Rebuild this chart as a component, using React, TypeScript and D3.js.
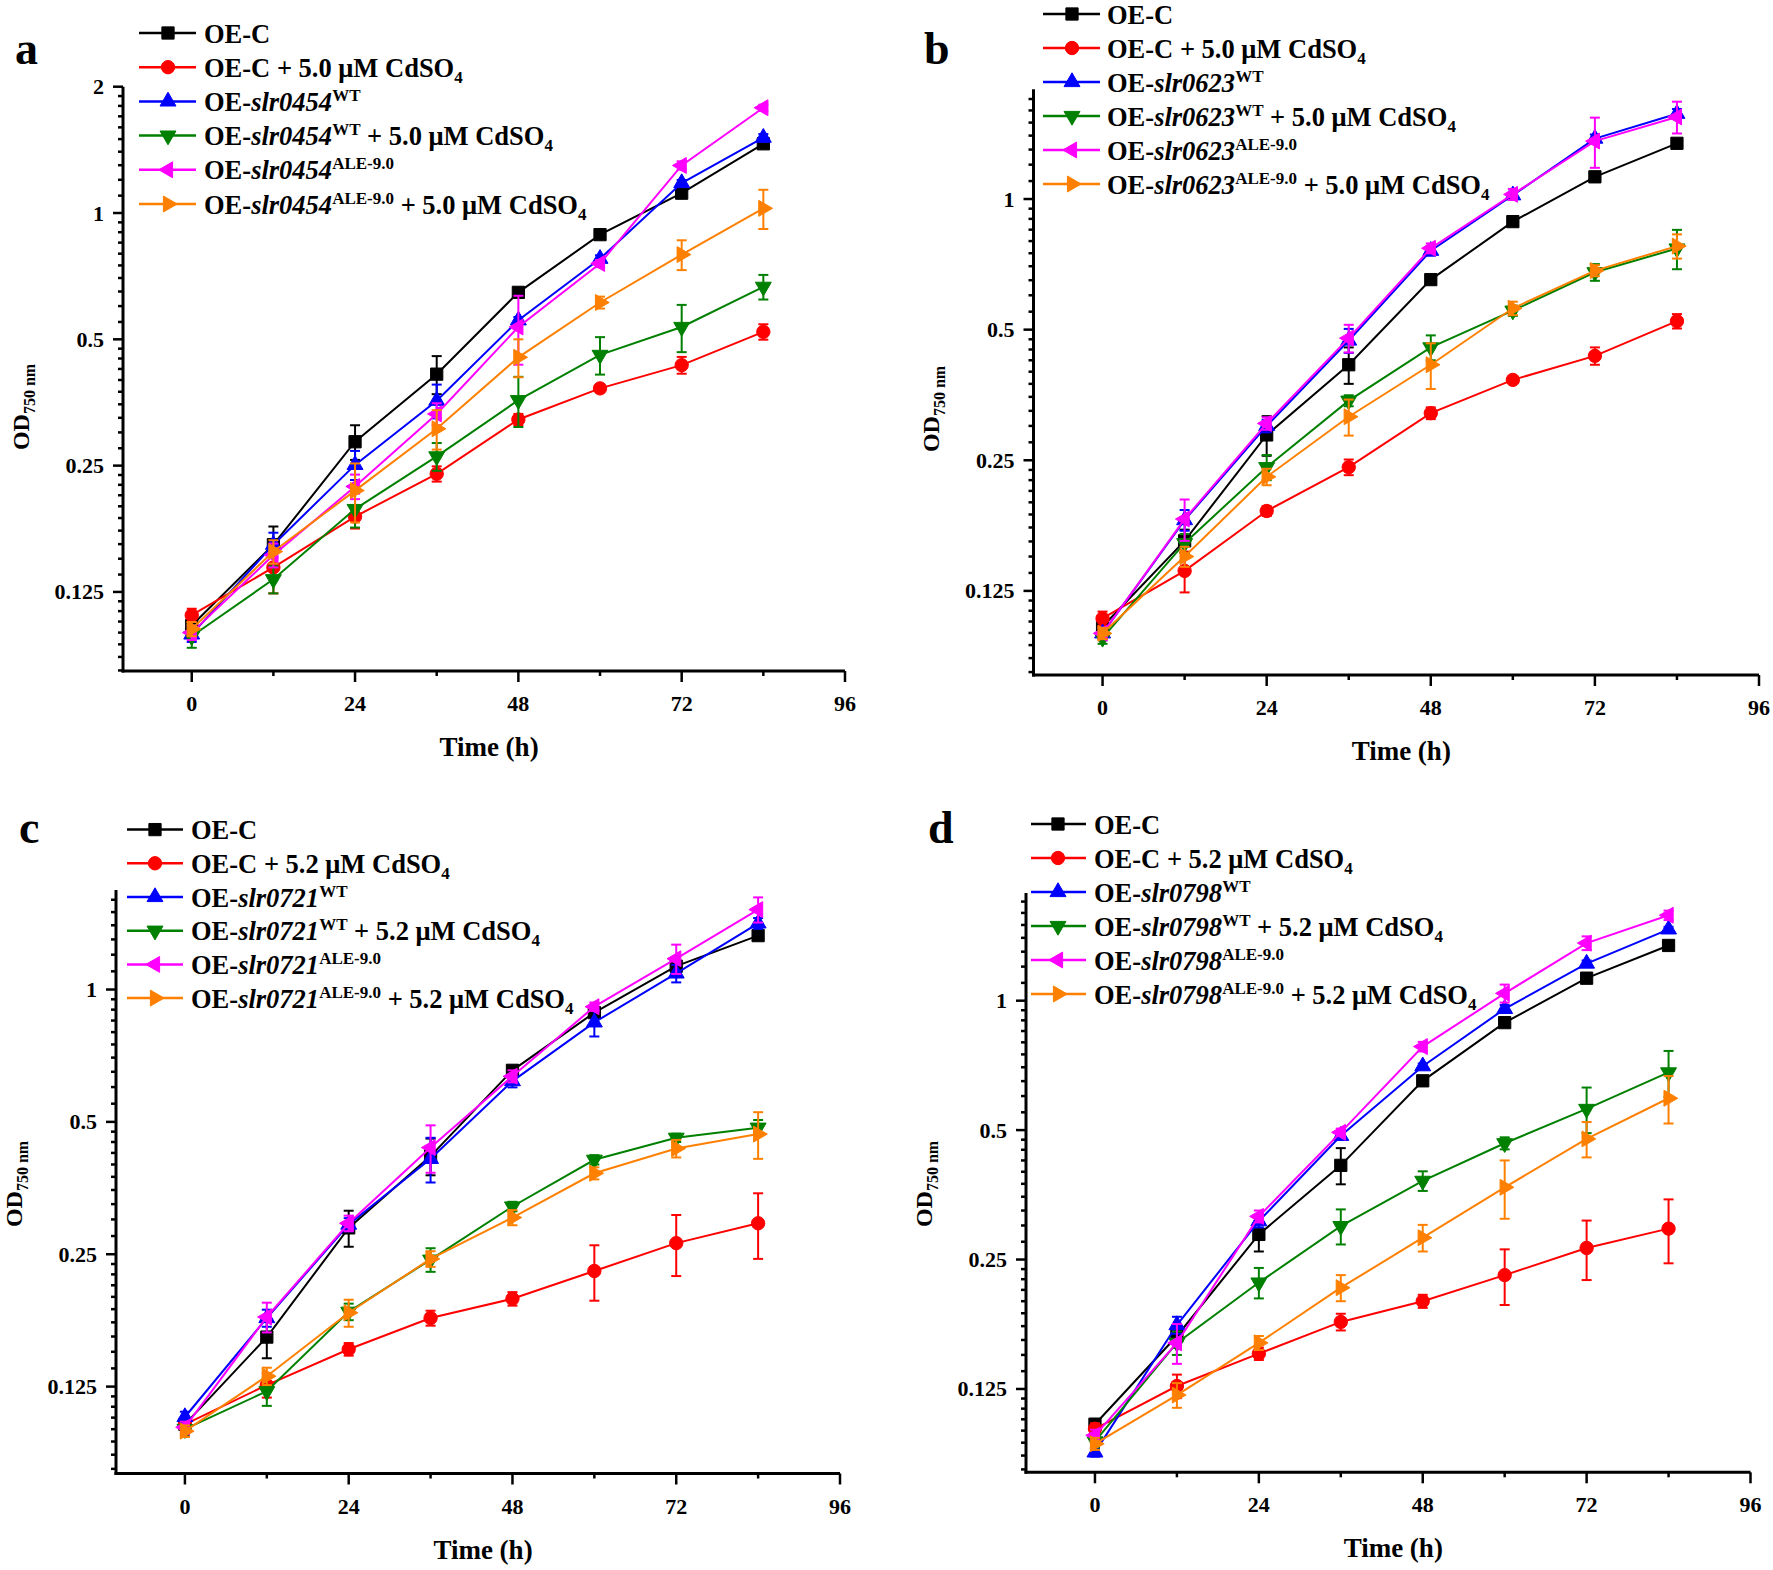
import React from 'react';
import * as d3 from 'd3';

// ---------- shared axis data ----------
const TIMES = [0, 12, 24, 36, 48, 60, 72, 84];
const X_TICKS = [0, 24, 48, 72, 96];
const X_MINOR = [12, 36, 60, 84];
const Y_TICKS = [2, 1, 0.5, 0.25, 0.125];
const Y_TICK_LABELS = ['2', '1', '0.5', '0.25', '0.125'];

const SERIES_COLORS = ['#000000', '#FF0000', '#0000FF', '#008000', '#FF00FF', '#FF8000'];
const SERIES_SHAPES = ['square', 'circle', 'up', 'down', 'left', 'right'];

// ---------- panel a (slr0454, 5.0 µM) ----------
const aOEC = [0.104, 0.162, 0.285, 0.413, 0.647, 0.888, 1.115, 1.462];
const aOECErr = [0.004, 0.017, 0.027, 0.043, 0.012, 0.012, 0.03, 0.025];
const aOECCd = [0.110, 0.143, 0.189, 0.239, 0.322, 0.382, 0.434, 0.521];
const aOECCdErr = [0.004, 0.019, 0.012, 0.01, 0.01, 0.008, 0.02, 0.022];
const aWT = [0.099, 0.162, 0.251, 0.357, 0.555, 0.778, 1.179, 1.512];
const aWTErr = [0.004, 0.011, 0.02, 0.033, 0.01, 0.015, 0.02, 0.03];
const aWTCd = [0.098, 0.134, 0.197, 0.263, 0.358, 0.459, 0.535, 0.667];
const aWTCdErr = [0.006, 0.01, 0.019, 0.02, 0.049, 0.047, 0.069, 0.045];
const aALE = [0.100, 0.153, 0.223, 0.332, 0.535, 0.758, 1.298, 1.782];
const aALEErr = [0.004, 0.01, 0.015, 0.02, 0.1, 0.015, 0.03, 0.03];
const aALECd = [0.102, 0.156, 0.218, 0.306, 0.453, 0.612, 0.796, 1.026];
const aALECdErr = [0.004, 0.01, 0.035, 0.033, 0.047, 0.02, 0.065, 0.11];

// ---------- panel b (slr0623, 5.0 µM) ----------
const bOEC = [0.1035, 0.163, 0.286, 0.415, 0.652, 0.887, 1.125, 1.344];
const bOECErr = [0.004, 0.01, 0.03, 0.04, 0.01, 0.015, 0.03, 0.03];
const bOECCd = [0.108, 0.139, 0.191, 0.241, 0.321, 0.383, 0.435, 0.523];
const bOECCdErr = [0.004, 0.015, 0.005, 0.01, 0.01, 0.006, 0.02, 0.02];
const bWT = [0.0998, 0.182, 0.300, 0.472, 0.760, 1.020, 1.378, 1.572];
const bWTErr = [0.003, 0.01, 0.01, 0.03, 0.02, 0.02, 0.03, 0.04];
const bWTCd = [0.0974, 0.161, 0.241, 0.343, 0.455, 0.553, 0.678, 0.769];
const bWTCdErr = [0.003, 0.008, 0.016, 0.01, 0.03, 0.015, 0.03, 0.08];
const bALE = [0.0998, 0.183, 0.304, 0.478, 0.770, 1.025, 1.360, 1.546];
const bALEErr = [0.003, 0.02, 0.01, 0.035, 0.02, 0.03, 0.18, 0.13];
const bALECd = [0.0998, 0.150, 0.229, 0.315, 0.415, 0.560, 0.684, 0.779];
const bALECdErr = [0.003, 0.008, 0.01, 0.03, 0.05, 0.02, 0.02, 0.05];

// ---------- panel c (slr0721, 5.2 µM) ----------
const cOEC = [0.1026, 0.162, 0.287, 0.418, 0.655, 0.886, 1.130, 1.326];
const cOECErr = [0.003, 0.017, 0.027, 0.04, 0.01, 0.01, 0.03, 0.02];
const cOECCd = [0.1026, 0.126, 0.152, 0.179, 0.198, 0.229, 0.265, 0.294];
const cOECCdErr = [0.003, 0.008, 0.005, 0.007, 0.007, 0.033, 0.042, 0.05];
const cWT = [0.1066, 0.179, 0.292, 0.412, 0.619, 0.842, 1.088, 1.414];
const cWTErr = [0.003, 0.008, 0.01, 0.048, 0.02, 0.06, 0.05, 0.04];
const cWTCd = [0.100, 0.122, 0.185, 0.243, 0.321, 0.410, 0.460, 0.485];
const cWTCdErr = [0.003, 0.009, 0.008, 0.015, 0.008, 0.01, 0.01, 0.02];
const cALE = [0.101, 0.180, 0.294, 0.437, 0.635, 0.914, 1.175, 1.520];
const cALEErr = [0.003, 0.014, 0.012, 0.054, 0.02, 0.02, 0.09, 0.1];
const cALECd = [0.099, 0.132, 0.184, 0.244, 0.303, 0.382, 0.435, 0.469];
const cALECdErr = [0.003, 0.006, 0.013, 0.01, 0.012, 0.012, 0.02, 0.057];

// ---------- panel d (slr0798, 5.2 µM) ----------
const dOEC = [0.1035, 0.166, 0.286, 0.414, 0.651, 0.889, 1.128, 1.344];
const dOECErr = [0.003, 0.01, 0.025, 0.04, 0.015, 0.02, 0.03, 0.03];
const dOECCd = [0.101, 0.127, 0.151, 0.179, 0.200, 0.230, 0.266, 0.295];
const dOECCdErr = [0.003, 0.008, 0.005, 0.008, 0.007, 0.034, 0.042, 0.05];
const dWT = [0.089, 0.176, 0.307, 0.485, 0.704, 0.957, 1.220, 1.465];
const dWTErr = [0.002, 0.008, 0.01, 0.01, 0.01, 0.02, 0.02, 0.02];
const dWTCd = [0.0944, 0.160, 0.221, 0.299, 0.381, 0.466, 0.560, 0.681];
const dWTCdErr = [0.003, 0.01, 0.018, 0.028, 0.02, 0.015, 0.068, 0.083];
const dALE = [0.0975, 0.160, 0.315, 0.494, 0.782, 1.040, 1.361, 1.580];
const dALEErr = [0.003, 0.017, 0.01, 0.01, 0.02, 0.05, 0.05, 0.04];
const dALECd = [0.0932, 0.121, 0.160, 0.215, 0.281, 0.368, 0.477, 0.593];
const dALECdErr = [0.003, 0.008, 0.006, 0.015, 0.02, 0.057, 0.045, 0.075];

const PANEL_LETTERS = ['a', 'b', 'c', 'd'];
const PANEL_GENES = ['slr0454', 'slr0623', 'slr0721', 'slr0798'];
const PANEL_CONC = ['5.0', '5.0', '5.2', '5.2'];
const PANEL_VALUES = [
  [aOEC, aOECCd, aWT, aWTCd, aALE, aALECd],
  [bOEC, bOECCd, bWT, bWTCd, bALE, bALECd],
  [cOEC, cOECCd, cWT, cWTCd, cALE, cALECd],
  [dOEC, dOECCd, dWT, dWTCd, dALE, dALECd],
];
const PANEL_ERRORS = [
  [aOECErr, aOECCdErr, aWTErr, aWTCdErr, aALEErr, aALECdErr],
  [bOECErr, bOECCdErr, bWTErr, bWTCdErr, bALEErr, bALECdErr],
  [cOECErr, cOECCdErr, cWTErr, cWTCdErr, cALEErr, cALECdErr],
  [dOECErr, dOECCdErr, dWTErr, dWTCdErr, dALEErr, dALECdErr],
];
const PANEL_YMAX = [2.0, 1.79, 1.684, 1.78];
const PANEL_YMIN = [0.081, 0.08, 0.0793, 0.08];

// ---------- layout (pixels) ----------
const LAYOUT = [
  { left: 123, right: 845, top: 86.7, bottom: 671, letterX: 15, letterY: 64, odY: 407,
    legY: 33, legStep: 34.2, legX1: 139, legX2: 196, legM: 168, legT: 204 },
  { left: 1033.5, right: 1759, top: 89.3, bottom: 675, letterX: 924, letterY: 64, odY: 409,
    legY: 14, legStep: 34, legX1: 1043, legX2: 1100, legM: 1072, legT: 1107 },
  { left: 116, right: 840, top: 890, bottom: 1473.5, letterX: 19, letterY: 843, odY: 1184,
    legY: 829.6, legStep: 33.7, legX1: 127, legX2: 183, legM: 155, legT: 191 },
  { left: 1026, right: 1750.5, top: 893, bottom: 1472.3, letterX: 928, letterY: 843, odY: 1184,
    legY: 824, legStep: 34, legX1: 1031, legX2: 1086, legM: 1058, legT: 1094 },
];

const FONT = '"Liberation Serif", "Times New Roman", Times, serif';
const X_MIN = -10.1;

function markerPath(shape: string): { d: string; rot: number } {
  if (shape === 'square') return { d: d3.symbol(d3.symbolSquare, 150)() as string, rot: 0 };
  if (shape === 'circle') return { d: d3.symbol(d3.symbolCircle, 140)() as string, rot: 0 };
  const tri = d3.symbol(d3.symbolTriangle, 110)() as string;
  const rot = shape === 'up' ? 0 : shape === 'down' ? 180 : shape === 'left' ? -90 : 90;
  return { d: tri, rot };
}

function Marker({ x, y, i }: { x: number; y: number; i: number }) {
  const m = markerPath(SERIES_SHAPES[i]);
  return (
    <path d={m.d} transform={`translate(${x},${y}) rotate(${m.rot})`} fill={SERIES_COLORS[i]} stroke={SERIES_COLORS[i]} strokeWidth={1} />
  );
}

function LegendLabel({ x, y, kind, gene, conc }: { x: number; y: number; kind: number; gene: string; conc: string }) {
  const cd = (lead: number) => [
    <tspan key="cd" dy={lead}>{` + ${conc} \u03BCM CdSO`}</tspan>,
    <tspan key="sub" dy={6} fontSize={17}>4</tspan>,
  ];
  let parts: React.ReactNode[] = [];
  if (kind === 0) parts = [<tspan key="a">OE-C</tspan>];
  else if (kind === 1) parts = [<tspan key="a">OE-C</tspan>, ...cd(0)];
  else {
    const sup = kind === 2 || kind === 3 ? 'WT' : 'ALE-9.0';
    parts = [
      <tspan key="a">OE-</tspan>,
      <tspan key="g" fontStyle="italic">{gene}</tspan>,
      <tspan key="s" dy={-10} fontSize={17}>{sup}</tspan>,
    ];
    if (kind === 3 || kind === 5) parts.push(...cd(10));
  }
  return (
    <text x={x} y={y} fontFamily={FONT} fontWeight="bold" fontSize={26.5} fill="#000" style={{ whiteSpace: 'pre' }}>
      {parts}
    </text>
  );
}

function Panel({ p }: { p: number }) {
  const L = LAYOUT[p];
  const x = d3.scaleLinear().domain([X_MIN, 96]).range([L.left, L.right]);
  const y = d3.scaleLog().base(2).domain([PANEL_YMIN[p], PANEL_YMAX[p]]).range([L.bottom, L.top]);
  const line = d3.line<number>().x((_, i) => x(TIMES[i])).y((v) => y(v));
  const values = PANEL_VALUES[p];
  const errors = PANEL_ERRORS[p];

  // minor y ticks: 9 per octave, linear within octave
  const minor: number[] = [];
  for (let k = -5; k <= 1; k++) {
    const base = Math.pow(2, k);
    for (let j = 1; j <= 9; j++) {
      const v = base * (1 + j / 10);
      if (v >= PANEL_YMIN[p] && v <= PANEL_YMAX[p]) minor.push(v);
    }
  }
  const yMajor = Y_TICKS.map((v, i) => ({ v, label: Y_TICK_LABELS[i] })).filter((t) => t.v <= PANEL_YMAX[p] * 1.001);
  const midX = (L.left + L.right) / 2 + 5;

  return (
    <g>
      {/* panel letter */}
      <text x={L.letterX} y={L.letterY} fontFamily={FONT} fontWeight="bold" fontSize={46}>{PANEL_LETTERS[p]}</text>

      {/* series */}
      {values.map((vals, si) => (
        <g key={si}>
          <path d={line(vals) as string} fill="none" stroke={SERIES_COLORS[si]} strokeWidth={2} />
          {vals.map((v, ti) => {
            const e = errors[si][ti];
            const cx = x(TIMES[ti]);
            const yTop = y(v + e);
            const yBot = y(Math.max(v - e, 0.001));
            return (
              <g key={ti} stroke={SERIES_COLORS[si]} strokeWidth={2}>
                <line x1={cx} x2={cx} y1={yTop} y2={yBot} />
                <line x1={cx - 5} x2={cx + 5} y1={yTop} y2={yTop} />
                <line x1={cx - 5} x2={cx + 5} y1={yBot} y2={yBot} />
              </g>
            );
          })}
          {vals.map((v, ti) => (
            <Marker key={'m' + ti} x={x(TIMES[ti])} y={y(v)} i={si} />
          ))}
        </g>
      ))}

      {/* axes */}
      <line x1={L.left} x2={L.left} y1={L.top} y2={L.bottom + 1.5} stroke="#000" strokeWidth={3} />
      <line x1={L.left - 1.5} x2={L.right} y1={L.bottom} y2={L.bottom} stroke="#000" strokeWidth={3} />
      {minor.map((v, i) => (
        <line key={'ym' + i} x1={L.left - 5} x2={L.left} y1={y(v)} y2={y(v)} stroke="#000" strokeWidth={2.5} />
      ))}
      {yMajor.map((t, i) => (
        <g key={'yt' + i}>
          <line x1={L.left - 10} x2={L.left} y1={y(t.v)} y2={y(t.v)} stroke="#000" strokeWidth={2.5} />
          <text x={L.left - 19} y={y(t.v) + 7.5} textAnchor="end" fontFamily={FONT} fontWeight="bold" fontSize={22}>{t.label}</text>
        </g>
      ))}
      {X_MINOR.map((t, i) => (
        <line key={'xm' + i} x1={x(t)} x2={x(t)} y1={L.bottom} y2={L.bottom + 5} stroke="#000" strokeWidth={2.5} />
      ))}
      {X_TICKS.map((t, i) => (
        <g key={'xt' + i}>
          <line x1={x(t)} x2={x(t)} y1={L.bottom} y2={L.bottom + 11} stroke="#000" strokeWidth={2.5} />
          <text x={x(t)} y={L.bottom + 40} textAnchor="middle" fontFamily={FONT} fontWeight="bold" fontSize={22}>{t}</text>
        </g>
      ))}

      {/* axis titles */}
      <text x={midX} y={L.bottom + 85} textAnchor="middle" fontFamily={FONT} fontWeight="bold" fontSize={27}>Time (h)</text>
      <text transform={`translate(${L.left - 94.5},${L.odY}) rotate(-90)`} textAnchor="middle" fontFamily={FONT} fontWeight="bold" fontSize={24} style={{ whiteSpace: 'pre' }}>
        OD<tspan dy={6} fontSize={16}>750 nm</tspan>
      </text>

      {/* legend */}
      {SERIES_COLORS.map((c, si) => {
        const ry = L.legY + si * L.legStep;
        return (
          <g key={'lg' + si}>
            <line x1={L.legX1} x2={L.legX2} y1={ry} y2={ry} stroke={c} strokeWidth={2.5} />
            <Marker x={L.legM} y={ry} i={si} />
            <LegendLabel x={L.legT} y={ry + 9.5} kind={si} gene={PANEL_GENES[p]} conc={PANEL_CONC[p]} />
          </g>
        );
      })}
    </g>
  );
}

export default function App() {
  return (
    <svg width={1773} height={1570} viewBox="0 0 1773 1570" style={{ position: 'absolute', left: 0, top: 0, background: '#fff' }}>
      <rect x={0} y={0} width={1773} height={1570} fill="#fff" />
      {[0, 1, 2, 3].map((p) => (
        <Panel key={p} p={p} />
      ))}
    </svg>
  );
}
